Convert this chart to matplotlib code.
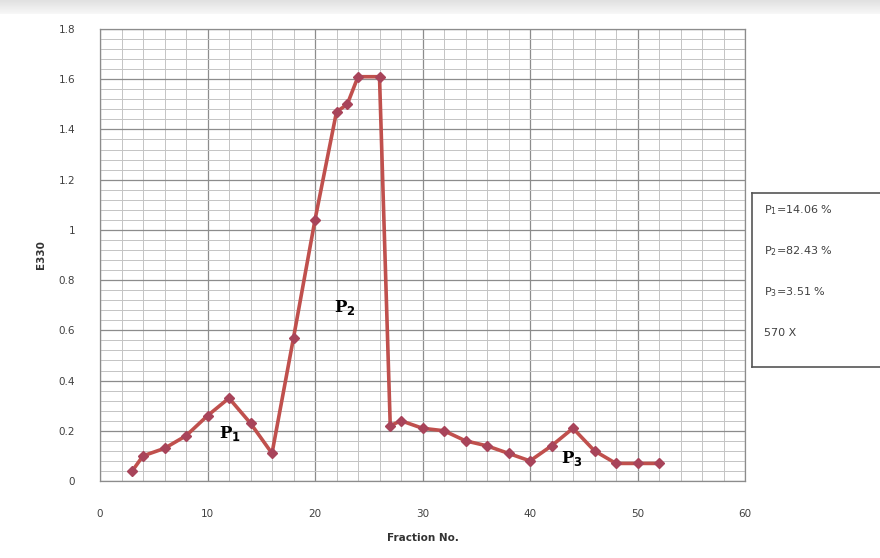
import numpy as np
import matplotlib.pyplot as plt
from matplotlib.ticker import MultipleLocator

# Fraction number vs absorbance at 330 nm
fraction = [3, 4, 6, 8, 10, 12, 14, 16, 18, 20, 22, 23, 24, 26, 27, 28,
            30, 32, 34, 36, 38, 40, 42, 44, 46, 48, 50, 52]
e330 = [0.04, 0.10, 0.13, 0.18, 0.26, 0.33, 0.23, 0.11, 0.57, 1.04, 1.47, 1.50,
        1.61, 1.61, 0.22, 0.24, 0.21, 0.20, 0.16, 0.14, 0.11, 0.08, 0.14, 0.21,
        0.12, 0.07, 0.07, 0.07]

peak_names = ["P$_\\mathbf{1}$", "P$_\\mathbf{2}$", "P$_\\mathbf{3}$"]
peak_pos = [(12.1, 0.19), (22.8, 0.69), (43.9, 0.09)]
legend_lines = ["P$_1$=14.06 %", "P$_2$=82.43 %", "P$_3$=3.51 %", "570 X"]

y_ticks = [0, 0.2, 0.4, 0.6, 0.8, 1.0, 1.2, 1.4, 1.6, 1.8]
y_labels = ["0", "0.2", "0.4", "0.6", "0.8", "1", "1.2", "1.4", "1.6", "1.8"]
x_ticks = [0, 10, 20, 30, 40, 50, 60]

W, H = 880, 558
fig = plt.figure(figsize=(W / 100, H / 100), dpi=100)
fig.patch.set_facecolor("white")

# grey band on top of the page
band = fig.add_axes([0, 1 - 14 / H, 1, 14 / H])
band.imshow(np.linspace(0.88, 0.97, 20).reshape(-1, 1), cmap="gray", vmin=0, vmax=1,
            aspect="auto", extent=[0, 1, 0, 1])
band.axis("off")

ax = fig.add_axes([100 / W, 1 - 481 / H, 645 / W, 452 / H])
ax.plot(fraction, e330, color="#c0504d", lw=2.6, marker="D", ms=5,
        mfc="#a8445a", mec="#a8445a", zorder=3)

ax.set_xlim(0, 60)
ax.set_ylim(0, 1.8)
ax.set_xticks(x_ticks)
ax.set_yticks(y_ticks)
ax.set_yticklabels(y_labels)
ax.xaxis.set_minor_locator(MultipleLocator(2))
ax.yaxis.set_minor_locator(MultipleLocator(0.04))
ax.grid(which="major", color="#8c8c8c", lw=0.9)
ax.grid(which="minor", color="#c4c4c4", lw=0.7)
ax.set_axisbelow(True)
ax.tick_params(which="both", length=0)
ax.tick_params(axis="x", pad=20, labelsize=7.5, labelcolor="#404040")
ax.tick_params(axis="y", pad=18, labelsize=7.5, labelcolor="#404040")
for s in ax.spines.values():
    s.set_color("#8c8c8c")
    s.set_linewidth(0.9)

ax.set_xlabel("Fraction No.", fontsize=7.5, fontweight="bold", color="#333333", labelpad=10)
ax.set_ylabel("E330", fontsize=7.5, fontweight="bold", color="#333333", labelpad=9)

for name, (px, py) in zip(peak_names, peak_pos):
    ax.text(px, py, name, family="DejaVu Serif", fontweight="bold", fontsize=12,
            ha="center", va="center", color="black")

# text box on the right
box = fig.add_axes([752 / W, 1 - 367 / H, 140 / W, 174 / H])
box.set_xticks([])
box.set_yticks([])
for s in box.spines.values():
    s.set_color("#555555")
    s.set_linewidth(1.2)
for i, t in enumerate(legend_lines):
    box.text(12 / 140, 1 - (17 + i * 41) / 174, t, transform=box.transAxes,
             fontsize=8, color="#404040", va="center", ha="left")

fig.savefig("out.png", dpi=100)
